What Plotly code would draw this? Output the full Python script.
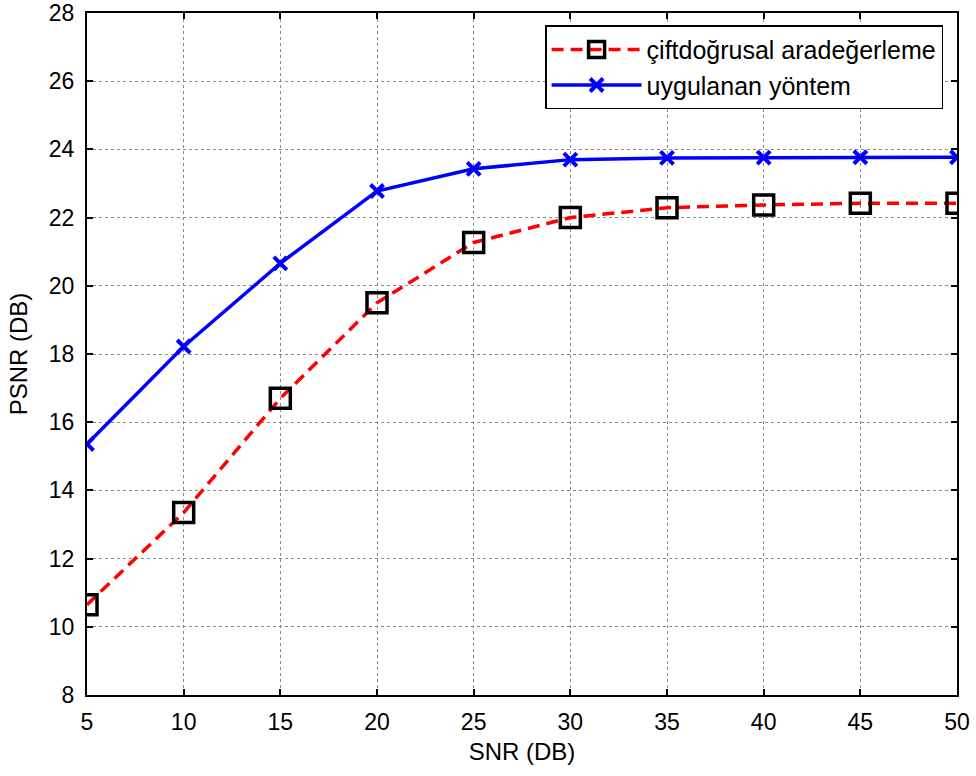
import plotly.graph_objects as go

snr = [5, 10, 15, 20, 25, 30, 35, 40, 45, 50]
bilinear = [10.65, 13.35, 16.7, 19.5, 21.27, 22.0, 22.29, 22.37, 22.42, 22.42]
proposed = [15.36, 18.22, 20.66, 22.78, 23.43, 23.70, 23.75, 23.76, 23.77, 23.77]
name_bilinear = "çiftdoğrusal aradeğerleme"
name_proposed = "uygulanan yöntem"
x_ticks = [5, 10, 15, 20, 25, 30, 35, 40, 45, 50]
y_ticks = [8, 10, 12, 14, 16, 18, 20, 22, 24, 26, 28]

FONT = "Liberation Sans, Arial"

fig = go.Figure()
fig.add_trace(go.Scatter(
    x=snr, y=bilinear, name=name_bilinear, mode="lines+markers",
    line=dict(color="#ff0000", width=3.5, dash="12px,7px"),
    marker=dict(symbol="square-open", size=20, color="black", line=dict(width=3.5, color="black")),
))
fig.add_trace(go.Scatter(
    x=snr, y=proposed, name=name_proposed, mode="lines+markers",
    line=dict(color="#0000ff", width=3.5),
    marker=dict(symbol="x-thin-open", size=13, color="#0000ff", line=dict(width=4, color="#0000ff")),
))

axis_common = dict(
    showline=True, linecolor="black", linewidth=2, mirror="ticks",
    ticks="inside", ticklen=6, tickwidth=2, tickcolor="black",
    showgrid=True, gridcolor="#8a8a8a", griddash="dot", gridwidth=1,
    zeroline=False, automargin=False,
    tickfont=dict(family=FONT, size=23, color="black"),
    title_font=dict(family=FONT, size=24, color="black"),
)
fig.update_xaxes(range=[5, 50], tickvals=x_ticks, title_text="SNR (DB)",
                 title_standoff=10, ticklabelstandoff=5, **axis_common)
fig.update_yaxes(range=[8, 28], tickvals=y_ticks, title_text="PSNR (DB)",
                 title_standoff=14, ticklabelstandoff=6, **axis_common)

fig.update_layout(
    width=976, height=776,
    margin=dict(l=87, r=19, t=13, b=81),
    paper_bgcolor="white", plot_bgcolor="white",
    showlegend=True,
    legend=dict(
        x=0.984, y=0.982, xanchor="right", yanchor="top",
        bgcolor="white", bordercolor="black", borderwidth=1.5,
        font=dict(family=FONT, size=25, color="black"),
        itemwidth=90, tracegroupgap=2,
    ),
)
fig.write_html("out.html")
